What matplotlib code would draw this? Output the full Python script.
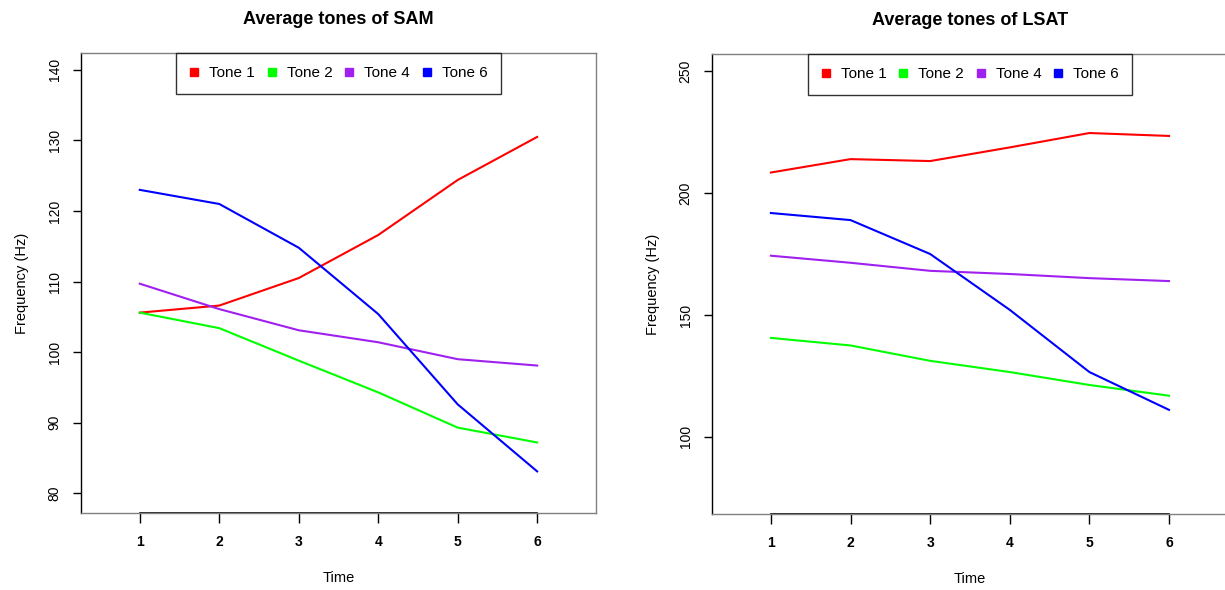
import matplotlib.pyplot as plt
from matplotlib.lines import Line2D

plt.rcParams['font.family'] = ['Liberation Sans', 'DejaVu Sans']

time = [1, 2, 3, 4, 5, 6]
tone_names = ['Tone 1', 'Tone 2', 'Tone 4', 'Tone 6']
tone_colors = ['#FF0000', '#00FF00', '#A020F0', '#0000FF']

sam_tone1 = [105.6, 106.6, 110.5, 116.6, 124.4, 130.5]
sam_tone2 = [105.6, 103.4, 98.8, 94.3, 89.3, 87.2]
sam_tone4 = [109.7, 106.1, 103.1, 101.4, 99.0, 98.1]
sam_tone6 = [123.0, 121.0, 114.8, 105.4, 92.6, 83.1]

lsat_tone1 = [208.4, 213.9, 213.1, 218.7, 224.6, 223.4]
lsat_tone2 = [140.6, 137.5, 131.2, 126.6, 121.3, 116.9]
lsat_tone4 = [174.3, 171.4, 168.1, 166.8, 165.1, 163.9]
lsat_tone6 = [191.8, 188.9, 175.0, 152.1, 126.6, 111.1]

sam_yticks = [80, 90, 100, 110, 120, 130, 140]
lsat_yticks = [100, 150, 200, 250]

fig = plt.figure(figsize=(12.25, 5.9), dpi=100)
ax1 = fig.add_axes([0.0661, 0.1305, 0.4204, 0.7797])
ax2 = fig.add_axes([0.5812, 0.1288, 0.4212, 0.7797])


def draw_panel(ax, series, title, yticks, ylim):
    for vals, name, col in zip(series, tone_names, tone_colors):
        ax.plot(time, vals, color=col, lw=1.5, label=name)
    ax.set_xlim(0.26, 6.74)
    ax.set_ylim(*ylim)
    ax.set_xticks(time)
    ax.set_xticklabels([str(t) for t in time], fontweight='bold', fontsize=10)
    ax.set_yticks(yticks)
    ax.set_yticklabels([str(v) for v in yticks], rotation=90, va='center', fontsize=10)
    ax.tick_params(axis='x', length=7, width=1, pad=9)
    ax.tick_params(axis='y', length=6, width=1, pad=8)
    for s in ax.spines.values():
        s.set_color('#808080')
        s.set_linewidth(1)
    ax.spines['left'].set_color('black')
    # black axis line between first and last tick, like base R axis()
    ax.plot([time[0], time[-1]], [0, 0], color='black', lw=1.2,
            transform=ax.get_xaxis_transform(), clip_on=False)
    ax.set_title(title, fontweight='bold', fontsize=13, pad=21)
    ax.set_xlabel('Time', fontsize=10.5, labelpad=15.5)
    ax.set_ylabel('Frequency (Hz)', fontsize=10.5, labelpad=13.5)
    handles = [Line2D([], [], ls='none', marker='s', ms=6, color=c) for c in tone_colors]
    leg = ax.legend(handles, tone_names, loc='upper center', ncol=4, fontsize=11,
                    frameon=True, fancybox=False, borderaxespad=0,
                    handlelength=0.6, handletextpad=0.68, columnspacing=0.8,
                    borderpad=0.88)
    leg.get_frame().set_edgecolor('black')
    leg.get_frame().set_linewidth(1)


draw_panel(ax1, [sam_tone1, sam_tone2, sam_tone4, sam_tone6],
           'Average tones of SAM', sam_yticks, (77.2, 142.4))
draw_panel(ax2, [lsat_tone1, lsat_tone2, lsat_tone4, lsat_tone6],
           'Average tones of LSAT', lsat_yticks, (68.4, 257.0))

plt.savefig('out.png', dpi=100)
